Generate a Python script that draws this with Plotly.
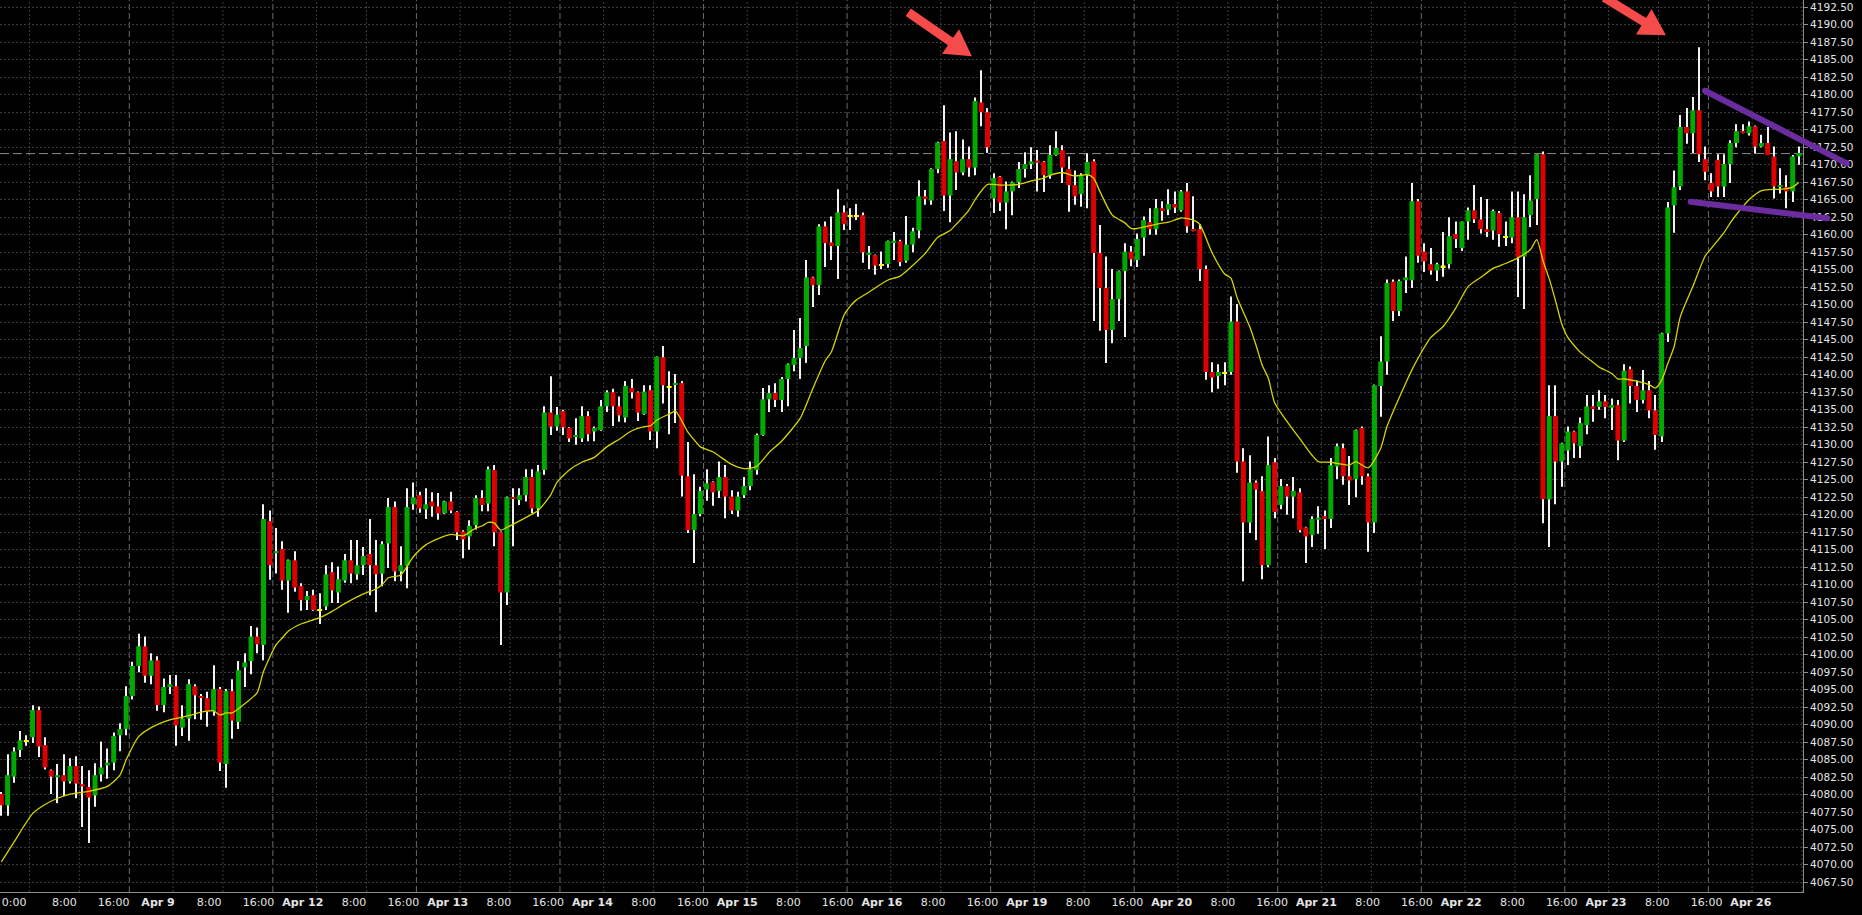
import plotly.graph_objects as go

# ---------------- data (hourly bars, index 0 = Apr 8 ~1:00) ----------------
open_px = [
    4080.1, 4078.5, 4082.6, 4086.4, 4087.7, 4088.2, 4092.1, 4087.1, 4083.5, 4082.5,
    4082.8, 4081.9, 4084.1, 4081.5, 4081.1, 4079.9, 4082.9, 4084.2, 4084.6, 4088.5,
    4089.4, 4094.1, 4098.4, 4101.2, 4097.0, 4099.2, 4092.8, 4095.4, 4095.5, 4089.6,
    4090.9, 4095.5, 4094.1, 4093.8, 4091.9, 4095.1, 4084.4, 4094.8, 4090.4, 4098.2,
    4099.1, 4102.6, 4101.4, 4119.1, 4114.5, 4115.1, 4110.6, 4113.5, 4109.8, 4107.8,
    4108.5, 4106.4, 4106.9, 4111.8, 4108.9, 4110.6, 4113.5, 4111.5, 4112.8, 4114.4,
    4112.8, 4111.6, 4115.9, 4121.1, 4111.9, 4112.7, 4121.5, 4122.8, 4120.8, 4121.9,
    4121.2, 4120.2, 4121.9, 4120.4, 4117.6, 4116.9, 4118.5, 4122.4, 4121.6, 4126.4,
    4117.5, 4108.9, 4122.5, 4122.1, 4122.8, 4125.4, 4120.9, 4126.4, 4134.6, 4132.6,
    4134.8, 4132.4, 4131.1, 4130.9, 4134.1, 4131.9, 4132.1, 4135.5, 4137.5, 4135.5,
    4133.9, 4138.1, 4137.5, 4134.4, 4137.8, 4131.9, 4142.5, 4138.3, 4138.6, 4138.8,
    4125.5, 4117.8, 4120.1, 4123.6, 4124.7, 4123.4, 4125.4, 4122.6, 4120.6, 4122.8,
    4124.1, 4126.4, 4131.4, 4136.5, 4137.4, 4136.4, 4139.4, 4141.4, 4142.4, 4144.1,
    4153.9, 4152.8, 4161.2, 4158.9, 4158.4, 4163.2, 4162.7, 4162.7, 4162.8, 4157.3,
    4157.1, 4155.7, 4155.8, 4159.0, 4159.1, 4156.3, 4158.6, 4160.6, 4165.5, 4164.9,
    4169.4, 4173.4, 4165.6, 4170.5, 4168.9, 4170.8, 4169.6, 4178.9, 4177.5, 4165.2,
    4168.3, 4164.6, 4166.2, 4167.5, 4169.4, 4170.1, 4170.6, 4170.4, 4168.5, 4171.4,
    4172.1, 4169.4, 4167.1, 4165.8, 4168.5, 4170.5, 4157.4, 4152.4, 4146.4, 4150.8,
    4154.8, 4157.6, 4156.4, 4159.6, 4161.8, 4160.8, 4163.8, 4163.6, 4164.4, 4163.5,
    4166.2, 4160.8, 4160.8, 4155.1, 4140.4, 4139.8, 4140.3, 4140.4, 4147.6, 4127.6,
    4118.9, 4124.6, 4123.4, 4112.8, 4127.5, 4121.4, 4124.1, 4122.6, 4123.2, 4118.2,
    4117.1, 4119.3, 4119.8, 4119.4, 4126.9, 4129.5, 4125.5, 4125.1, 4132.4, 4125.5,
    4118.9, 4138.4, 4141.9, 4153.3, 4149.1, 4153.5, 4153.5, 4164.8, 4157.6, 4155.8,
    4154.9, 4155.5, 4155.8, 4160.1, 4158.1, 4161.9, 4163.5, 4162.2, 4160.8, 4160.6,
    4163.1, 4159.7, 4159.6, 4162.5, 4156.9, 4162.8, 4165.1, 4171.5, 4122.2, 4134.1,
    4127.6, 4129.2, 4131.9, 4129.8, 4132.8, 4135.5, 4135.4, 4136.2, 4135.3, 4135.7,
    4130.6, 4140.8, 4138.4, 4136.4, 4137.8, 4134.9, 4131.2, 4145.9, 4164.2, 4166.9,
    4175.4, 4174.5, 4177.8, 4170.8, 4167.4, 4170.7, 4166.9, 4170.1, 4173.1, 4174.8,
    4174.5, 4175.5, 4172.6, 4173.1, 4171.2, 4166.9, 4166.8, 4166.2, 4171.2,
]
high_px = [
    4080.4, 4085.8, 4086.8, 4089.1, 4088.5, 4092.8, 4092.6, 4088.2, 4083.6, 4084.4,
    4085.8, 4085.2, 4085.5, 4084.1, 4083.5, 4084.5, 4087.6, 4086.6, 4088.9, 4090.2,
    4095.5, 4099.0, 4103.0, 4102.6, 4100.2, 4099.8, 4096.6, 4097.1, 4097.1, 4092.8,
    4096.5, 4095.8, 4094.4, 4094.7, 4098.5, 4095.4, 4095.1, 4096.5, 4099.1, 4100.2,
    4104.1, 4103.9, 4121.5, 4120.6, 4118.1, 4116.2, 4113.6, 4114.8, 4110.2, 4109.1,
    4109.3, 4108.8, 4112.8, 4113.2, 4112.6, 4114.4, 4116.4, 4116.4, 4115.4, 4119.4,
    4116.4, 4116.2, 4122.4, 4121.9, 4115.5, 4123.8, 4124.6, 4123.3, 4123.8, 4123.2,
    4123.1, 4122.0, 4123.3, 4120.5, 4117.8, 4119.2, 4122.8, 4123.5, 4126.9, 4127.1,
    4117.6, 4122.6, 4123.8, 4123.8, 4126.5, 4126.5, 4127.1, 4135.5, 4139.8, 4135.4,
    4135.0, 4132.5, 4133.8, 4135.5, 4134.8, 4132.6, 4136.4, 4137.8, 4138.0, 4136.9,
    4139.1, 4139.4, 4137.6, 4138.5, 4138.5, 4142.6, 4144.1, 4140.5, 4140.1, 4139.1,
    4130.4, 4125.8, 4124.0, 4126.5, 4124.8, 4127.6, 4127.1, 4123.5, 4123.3, 4125.4,
    4127.6, 4131.6, 4138.1, 4138.5, 4138.8, 4139.7, 4141.6, 4146.4, 4148.1, 4156.4,
    4154.0, 4161.5, 4161.9, 4162.6, 4166.5, 4164.2, 4163.8, 4164.4, 4163.2, 4158.4,
    4157.2, 4157.6, 4159.2, 4160.4, 4159.3, 4162.7, 4161.0, 4167.8, 4166.4, 4169.5,
    4173.3, 4178.5, 4174.6, 4174.8, 4173.6, 4172.6, 4179.6, 4183.5, 4178.1, 4168.8,
    4168.4, 4167.6, 4167.6, 4170.4, 4171.8, 4172.5, 4172.1, 4170.5, 4172.8, 4174.8,
    4172.8, 4171.2, 4169.2, 4168.8, 4171.6, 4170.8, 4161.4, 4156.9, 4155.1, 4154.9,
    4158.8, 4158.4, 4160.2, 4162.6, 4163.8, 4165.1, 4164.8, 4166.5, 4166.2, 4166.4,
    4167.4, 4165.5, 4161.5, 4155.6, 4141.8, 4141.5, 4141.8, 4151.2, 4150.1, 4129.5,
    4128.5, 4124.9, 4125.5, 4131.2, 4128.1, 4125.1, 4124.4, 4125.4, 4123.8, 4118.3,
    4119.8, 4121.2, 4120.6, 4128.1, 4130.2, 4130.2, 4128.4, 4132.2, 4132.6, 4125.9,
    4138.6, 4145.5, 4153.6, 4153.6, 4153.6, 4156.9, 4167.4, 4165.1, 4158.8, 4158.1,
    4156.0, 4160.4, 4162.5, 4161.9, 4161.9, 4163.9, 4167.1, 4165.4, 4165.1, 4163.6,
    4163.4, 4161.9, 4166.2, 4166.2, 4165.8, 4168.5, 4171.5, 4171.9, 4138.5, 4138.5,
    4130.3, 4132.6, 4132.0, 4133.9, 4137.1, 4137.1, 4137.8, 4137.1, 4136.6, 4136.4,
    4141.5, 4141.2, 4139.2, 4140.7, 4139.1, 4137.1, 4146.0, 4164.7, 4169.2, 4177.1,
    4178.1, 4179.7, 4186.8, 4172.6, 4168.8, 4171.5, 4171.5, 4173.5, 4175.8, 4175.8,
    4176.2, 4175.6, 4174.3, 4175.4, 4172.6, 4169.5, 4168.5, 4171.4, 4172.6,
]
low_px = [
    4077.0, 4077.0, 4081.7, 4085.4, 4087.0, 4087.4, 4085.4, 4083.6, 4080.1, 4078.8,
    4079.8, 4081.6, 4079.5, 4075.4, 4073.1, 4078.3, 4081.9, 4082.3, 4083.5, 4086.2,
    4088.5, 4093.6, 4097.5, 4096.0, 4095.8, 4092.0, 4091.8, 4094.4, 4087.0, 4088.4,
    4087.7, 4090.8, 4090.7, 4089.7, 4091.3, 4083.4, 4081.0, 4088.0, 4089.4, 4095.4,
    4097.2, 4100.2, 4099.2, 4110.7, 4111.6, 4109.3, 4106.0, 4109.0, 4106.3, 4106.4,
    4106.3, 4104.4, 4106.4, 4107.4, 4107.4, 4110.3, 4110.2, 4110.7, 4111.4, 4108.5,
    4106.1, 4109.8, 4112.4, 4110.5, 4110.5, 4109.5, 4120.7, 4120.3, 4119.4, 4119.7,
    4119.3, 4120.1, 4120.2, 4116.4, 4113.8, 4115.0, 4117.9, 4120.5, 4120.5, 4115.5,
    4101.4, 4107.1, 4115.5, 4121.4, 4121.9, 4120.2, 4119.7, 4125.7, 4131.4, 4132.0,
    4131.4, 4130.4, 4130.0, 4130.4, 4130.5, 4130.5, 4132.0, 4134.7, 4132.7, 4133.3,
    4133.2, 4136.6, 4133.4, 4134.3, 4130.7, 4129.5, 4135.9, 4131.5, 4133.1, 4122.6,
    4117.4, 4113.1, 4119.8, 4122.0, 4121.3, 4122.4, 4119.5, 4120.1, 4119.7, 4122.4,
    4123.5, 4125.7, 4131.3, 4134.7, 4135.4, 4134.7, 4135.5, 4140.5, 4139.4, 4141.7,
    4149.7, 4151.4, 4155.4, 4156.4, 4153.7, 4160.7, 4160.7, 4162.1, 4156.0, 4155.1,
    4154.3, 4155.1, 4155.3, 4156.4, 4155.5, 4156.0, 4157.5, 4159.5, 4164.3, 4164.3,
    4168.8, 4163.4, 4161.8, 4166.4, 4168.5, 4168.3, 4168.5, 4175.5, 4171.7, 4163.1,
    4163.4, 4160.8, 4162.8, 4166.7, 4168.2, 4169.4, 4166.2, 4166.1, 4168.0, 4171.3,
    4167.4, 4163.3, 4164.3, 4164.0, 4163.8, 4147.7, 4146.3, 4141.7, 4144.5, 4147.7,
    4145.4, 4155.5, 4155.4, 4157.0, 4160.0, 4160.0, 4162.0, 4162.8, 4163.1, 4163.3,
    4160.3, 4160.5, 4153.4, 4139.3, 4137.5, 4138.0, 4138.5, 4140.0, 4126.0, 4110.5,
    4117.4, 4116.4, 4110.8, 4112.5, 4119.5, 4120.8, 4120.0, 4119.5, 4117.5, 4113.1,
    4115.4, 4117.3, 4115.1, 4118.1, 4125.1, 4124.3, 4121.4, 4122.5, 4124.3, 4114.7,
    4117.4, 4134.0, 4140.0, 4147.7, 4148.4, 4151.7, 4152.4, 4156.0, 4154.7, 4154.3,
    4153.4, 4154.0, 4155.2, 4158.1, 4157.7, 4159.3, 4161.7, 4160.2, 4159.7, 4159.3,
    4158.3, 4158.4, 4158.8, 4151.1, 4149.4, 4161.1, 4161.4, 4118.8, 4115.4, 4121.5,
    4124.0, 4127.1, 4128.1, 4128.1, 4131.5, 4133.3, 4135.0, 4133.8, 4132.1, 4127.8,
    4130.4, 4135.9, 4134.7, 4135.9, 4133.8, 4129.3, 4130.4, 4144.7, 4160.3, 4166.4,
    4173.0, 4171.7, 4170.4, 4167.8, 4165.4, 4165.4, 4165.4, 4167.4, 4172.5, 4174.5,
    4174.2, 4171.6, 4172.5, 4171.4, 4165.2, 4165.9, 4163.8, 4164.7, 4170.0,
]
close_px = [
    4078.5, 4082.8, 4086.2, 4087.8, 4087.7, 4092.1, 4086.9, 4083.9, 4082.6, 4082.8,
    4081.9, 4084.1, 4081.6, 4081.2, 4079.6, 4082.8, 4083.9, 4084.6, 4088.4, 4089.4,
    4094.1, 4098.4, 4101.2, 4097.0, 4099.2, 4092.8, 4095.4, 4095.8, 4089.9, 4090.9,
    4095.8, 4094.2, 4093.9, 4091.9, 4095.1, 4084.6, 4094.8, 4090.6, 4097.8, 4098.9,
    4102.6, 4101.5, 4119.4, 4112.8, 4114.8, 4110.6, 4113.5, 4109.6, 4107.8, 4108.4,
    4106.4, 4106.4, 4111.5, 4109.2, 4110.8, 4113.5, 4111.6, 4112.8, 4114.1, 4112.8,
    4111.5, 4115.8, 4121.1, 4111.9, 4112.8, 4121.1, 4122.5, 4120.9, 4121.5, 4121.2,
    4120.2, 4121.9, 4120.6, 4117.5, 4116.5, 4118.4, 4122.4, 4121.4, 4126.5, 4117.5,
    4108.9, 4122.5, 4122.3, 4122.8, 4125.4, 4120.9, 4126.2, 4134.6, 4132.6, 4134.3,
    4132.5, 4130.9, 4131.4, 4134.1, 4131.5, 4132.4, 4135.5, 4137.5, 4135.5, 4134.2,
    4138.4, 4137.5, 4134.6, 4137.6, 4131.9, 4142.6, 4138.5, 4138.3, 4138.8, 4125.6,
    4117.8, 4120.1, 4123.4, 4124.5, 4123.2, 4125.4, 4122.6, 4120.6, 4122.6, 4124.1,
    4126.5, 4131.4, 4136.5, 4137.4, 4136.4, 4139.4, 4141.5, 4142.4, 4143.8, 4153.9,
    4152.8, 4161.2, 4158.8, 4158.4, 4163.2, 4161.5, 4162.7, 4162.7, 4157.5, 4157.4,
    4155.6, 4155.7, 4159.1, 4159.1, 4156.1, 4158.6, 4160.5, 4165.5, 4165.1, 4169.4,
    4173.2, 4165.6, 4170.8, 4168.9, 4170.8, 4169.6, 4179.1, 4177.5, 4172.5, 4168.1,
    4164.6, 4166.2, 4167.5, 4169.4, 4170.1, 4170.5, 4170.3, 4168.5, 4171.4, 4172.4,
    4169.6, 4167.1, 4165.5, 4168.5, 4170.4, 4157.4, 4152.4, 4146.4, 4150.8, 4154.8,
    4157.6, 4156.5, 4159.4, 4162.1, 4160.8, 4163.8, 4163.4, 4164.4, 4163.9, 4166.2,
    4161.2, 4160.6, 4155.1, 4140.4, 4139.6, 4140.4, 4140.3, 4147.6, 4127.6, 4118.9,
    4124.6, 4123.6, 4112.8, 4127.1, 4120.4, 4124.1, 4122.6, 4123.4, 4117.8, 4116.9,
    4119.4, 4119.6, 4119.4, 4127.1, 4129.8, 4125.5, 4124.9, 4132.1, 4125.5, 4118.9,
    4138.5, 4141.9, 4153.1, 4149.1, 4153.4, 4153.9, 4164.8, 4157.0, 4156.2, 4154.9,
    4155.8, 4155.5, 4159.8, 4159.4, 4161.9, 4163.5, 4162.2, 4160.8, 4160.4, 4163.4,
    4160.1, 4159.7, 4162.5, 4156.8, 4162.5, 4164.9, 4171.5, 4122.2, 4134.1, 4127.6,
    4130.2, 4131.9, 4130.2, 4133.1, 4135.5, 4135.1, 4136.2, 4135.4, 4135.7, 4130.6,
    4140.6, 4138.4, 4136.4, 4137.8, 4134.9, 4131.4, 4145.9, 4163.9, 4166.8, 4175.4,
    4174.5, 4177.8, 4171.5, 4169.0, 4166.2, 4166.9, 4170.1, 4173.1, 4174.8, 4174.6,
    4175.5, 4172.6, 4173.1, 4171.4, 4166.9, 4167.1, 4166.2, 4171.2, 4171.7,
]

# moving average (bar index, value)
ma_bar = [0, 2, 5, 7, 9, 11, 14, 17, 19, 20, 22, 24, 27, 30, 32, 34, 35, 36, 37, 39,
          41, 42, 44, 45, 46, 48, 51, 53, 55, 58, 60, 61, 62, 64, 66, 68, 70, 72, 74, 76,
          77, 78, 79, 80, 81, 84, 86, 88, 89, 91, 93, 95, 97, 99, 101, 103, 104, 105, 107, 108,
          110, 111, 112, 114, 115, 117, 119, 121, 123, 125, 128, 130, 132, 133, 135, 136, 137, 139, 140, 142,
          144, 146, 148, 150, 152, 153, 155, 156, 158, 160, 163, 165, 167, 168, 170, 172, 174, 175, 176, 178,
          180, 181, 182, 185, 187, 189, 191, 192, 194, 196, 197, 198, 200, 201, 202, 203, 204, 206, 208, 210,
          211, 213, 216, 217, 219, 221, 222, 225, 226, 227, 229, 231, 233, 235, 237, 239, 241, 243, 245, 246,
          247, 248, 249, 250, 251, 253, 255, 256, 258, 259, 260, 262, 264, 265, 266, 267, 268, 269, 271, 273,
          274, 276, 277, 279, 280, 282, 284, 285, 287, 288]
ma_val = [4070.4, 4073.2, 4077.3, 4078.6, 4079.5, 4080.1, 4080.5, 4081.2, 4082.8, 4085.0,
          4088.3, 4089.6, 4090.7, 4091.3, 4091.8, 4092.0, 4091.4, 4091.7, 4091.7, 4093.0,
          4094.6, 4097.6, 4101.4, 4102.4, 4103.4, 4104.4, 4105.3, 4106.2, 4107.3, 4108.7,
          4109.4, 4110.0, 4111.0, 4111.4, 4114.0, 4115.7, 4116.6, 4117.2, 4117.0, 4118.1,
          4118.4, 4118.9, 4118.8, 4117.8, 4118.2, 4119.6, 4120.6, 4122.8, 4124.6, 4126.4,
          4127.5, 4128.2, 4129.7, 4130.8, 4132.0, 4132.6, 4132.7, 4133.5, 4134.4, 4134.8,
          4131.8, 4130.7, 4129.7, 4129.0, 4128.4, 4127.2, 4126.6, 4126.9, 4128.9, 4130.5,
          4133.8, 4138.0, 4142.0, 4143.3, 4148.5, 4149.8, 4150.7, 4151.8, 4152.4, 4153.5,
          4154.1, 4155.6, 4157.3, 4159.6, 4160.6, 4161.5, 4163.5, 4165.0, 4167.2, 4167.1,
          4167.2, 4167.7, 4168.1, 4168.5, 4168.9, 4168.4, 4168.6, 4168.1, 4166.2, 4162.8,
          4161.7, 4160.9, 4160.9, 4161.5, 4161.8, 4162.4, 4162.1, 4161.5, 4157.4, 4154.4,
          4153.8, 4151.0, 4146.9, 4144.3, 4141.4, 4139.5, 4136.0, 4133.3, 4130.9, 4128.5,
          4127.6, 4127.5, 4127.1, 4127.6, 4126.7, 4129.5, 4132.6, 4138.8, 4140.7, 4142.4,
          4145.3, 4146.9, 4149.5, 4152.6, 4153.9, 4155.2, 4155.9, 4156.7, 4157.9, 4159.3,
          4156.3, 4153.7, 4150.6, 4147.3, 4145.3, 4143.2, 4141.8, 4141.1, 4140.2, 4139.4,
          4139.4, 4139.1, 4138.6, 4138.1, 4139.2, 4141.6, 4144.0, 4148.3, 4152.6, 4157.0,
          4158.1, 4160.3, 4161.7, 4164.0, 4165.0, 4166.3, 4166.5, 4166.5, 4166.8, 4167.5]

day_names = ["Apr 8", "Apr 9", "Apr 12", "Apr 13", "Apr 14", "Apr 15", "Apr 16",
             "Apr 19", "Apr 20", "Apr 21", "Apr 22", "Apr 23", "Apr 26"]
price_level = 4171.6          # dashed horizontal level
y_tick_vals = [4067.5 + 2.5 * k for k in range(51)]
y_tick_text = [f"{v:.2f}" for v in y_tick_vals]

# ---------------- styling / geometry ----------------
GREEN, RED, DOJI = "#00a800", "#dc0000", "#ffff00"
WICK, MA_COLOR, BG = "#f2f2f2", "#d4d400", "#000000"
GRID, DAYGRID, AXIS = "#3c3c3c", "#6a6a6a", "#8c8c8c"
TXT = "#e4e4e4"
BARS_PER_DAY = 23
FIRST_DAY_START = -2.5
X_MIN, X_MAX = -0.216, 288.657
Y_MIN, Y_MAX = 4066.11, 4193.54
PLOT_W, PLOT_H = 1803, 892

n = len(open_px)
bar_index = list(range(n))

# wick ranges
wick_len = [h - l for h, l in zip(high_px, low_px)]

# bodies
base, height, colors = [], [], []
for o, c in zip(open_px, close_px):
    lo, hi = min(o, c), max(o, c)
    if hi - lo < 0.2:
        mid = (hi + lo) / 2
        lo, hi = mid - 0.11, mid + 0.11
    base.append(lo)
    height.append(hi - lo)
    colors.append(DOJI if o == c else (GREEN if c > o else RED))

fig = go.Figure()
fig.add_trace(go.Bar(x=bar_index, y=wick_len, base=low_px, width=0.17,
                     marker=dict(color=WICK, line=dict(width=0)), opacity=1,
                     hoverinfo="skip", showlegend=False))
fig.add_trace(go.Bar(x=bar_index, y=height, base=base, width=0.8, opacity=1,
                     marker=dict(color=colors, line=dict(width=0)), showlegend=False))
fig.add_trace(go.Scatter(x=ma_bar, y=ma_val, mode="lines",
                         line=dict(color=MA_COLOR, width=1.3, shape="spline", smoothing=0.6),
                         showlegend=False))

# vertical grid lines and x labels
shapes = []
tickvals, ticktext = [], []
for k, day in enumerate(day_names):
    start = FIRST_DAY_START + BARS_PER_DAY * k
    drift = 0.2 * k
    for off, dashed in ((0, True), (7, False), (15, False)):
        g = start + off
        if X_MIN < g < X_MAX:
            shapes.append(dict(type="line", xref="x", yref="paper", x0=g, x1=g, y0=0, y1=1,
                               line=dict(color=DAYGRID if dashed else GRID, width=1,
                                         dash="6px,3px" if dashed else "2px,2px"),
                               layer="below"))
    if k == 0:
        labels = [(start + 4.56, "0:00"), (start + 7 + 5.6, "8:00"), (start + 15 + 5.5, "16:00")]
    else:
        labels = [(start + 4.4 + drift, f"<b>{day}</b>"),
                  (start + 7 + 5.6 + drift, "8:00"),
                  (start + 15 + 5.5 + drift, "16:00")]
    for pos, txt in labels:
        if pos < 285:
            tickvals.append(pos)
            ticktext.append(txt)

# dashed price level
shapes.append(dict(type="line", xref="paper", yref="y", x0=0, x1=1, y0=price_level, y1=price_level,
                   line=dict(color="#8a8a8a", width=1, dash="9px,4px"), layer="below"))


def data_to_px(i, p):
    return ((i - X_MIN) / (X_MAX - X_MIN) * PLOT_W, (Y_MAX - p) / (Y_MAX - Y_MIN) * PLOT_H)


def px_to_paper(x, y):
    return x / PLOT_W, 1 - y / PLOT_H


# purple trend lines (in chart units, drawn beyond the plot edge)
trend_lines = [((272.96, 4180.58), (295.66, 4170.21)),
               ((270.66, 4164.72), (292.55, 4162.35))]
PURPLE = "#6a2c9e"
for a, b in trend_lines:
    pa = px_to_paper(*data_to_px(*a))
    pb = px_to_paper(*data_to_px(*b))
    shapes.append(dict(type="line", xref="paper", yref="paper", x0=pa[0], y0=pa[1], x1=pb[0], y1=pb[1],
                       line=dict(color=PURPLE, width=6), layer="above"))
    for pt in (a, b):
        cx, cy = data_to_px(*pt)
        x0, y0 = px_to_paper(cx - 3, cy + 3)
        x1, y1 = px_to_paper(cx + 3, cy - 3)
        shapes.append(dict(type="circle", xref="paper", yref="paper", x0=x0, y0=y0, x1=x1, y1=y1,
                           fillcolor=PURPLE, line=dict(width=0), layer="above"))

# red arrows (tail, tip) in chart units
arrows = [((145.3, 4191.8), (155.5, 4185.5)),
          ((256.8, 4193.9), (266.7, 4188.5))]
for tail, tip in arrows:
    tx, ty = data_to_px(*tail)
    px_, py_ = data_to_px(*tip)
    dx, dy = px_ - tx, py_ - ty
    L = (dx * dx + dy * dy) ** 0.5
    ux, uy = dx / L, dy / L
    nx, ny = -uy, ux
    hl, hw, sw = 26, 15, 4.5
    bx, by = px_ - ux * hl, py_ - uy * hl
    pts = [(tx + nx * sw, ty + ny * sw), (bx + nx * sw, by + ny * sw), (bx + nx * hw, by + ny * hw),
           (px_, py_), (bx - nx * hw, by - ny * hw), (bx - nx * sw, by - ny * sw),
           (tx - nx * sw, ty - ny * sw)]
    pp = [px_to_paper(x, y) for x, y in pts]
    path = "M " + " L ".join(f"{x:.5f},{y:.5f}" for x, y in pp) + " Z"
    shapes.append(dict(type="path", xref="paper", yref="paper", path=path,
                       fillcolor="#f54b4b", line=dict(width=0), layer="above"))

fig.update_layout(
    width=1862, height=915, autosize=False,
    margin=dict(l=0, r=59, t=0, b=23, pad=0),
    paper_bgcolor=BG, plot_bgcolor=BG,
    barmode="overlay", showlegend=False, hovermode=False,
    shapes=shapes,
    xaxis=dict(range=[X_MIN, X_MAX], showgrid=False, zeroline=False,
               tickmode="array", tickvals=tickvals, ticktext=ticktext, ticks="",
               tickfont=dict(family="DejaVu Sans", size=11, color=TXT),
               showline=True, linecolor=AXIS, linewidth=1),
    yaxis=dict(range=[Y_MIN, Y_MAX], side="right", zeroline=False,
               tickmode="array", tickvals=y_tick_vals, ticktext=y_tick_text,
               showgrid=True, gridcolor=GRID, griddash="2px,2px", gridwidth=1,
               ticks="outside", ticklen=4, tickcolor=AXIS,
               tickfont=dict(family="DejaVu Sans", size=10.5, color=TXT),
               showline=True, linecolor=AXIS, linewidth=1),
)

fig.write_html("out.html", config={"displayModeBar": False},
               post_script="document.body.style.margin='0';document.body.style.overflow='hidden';")
